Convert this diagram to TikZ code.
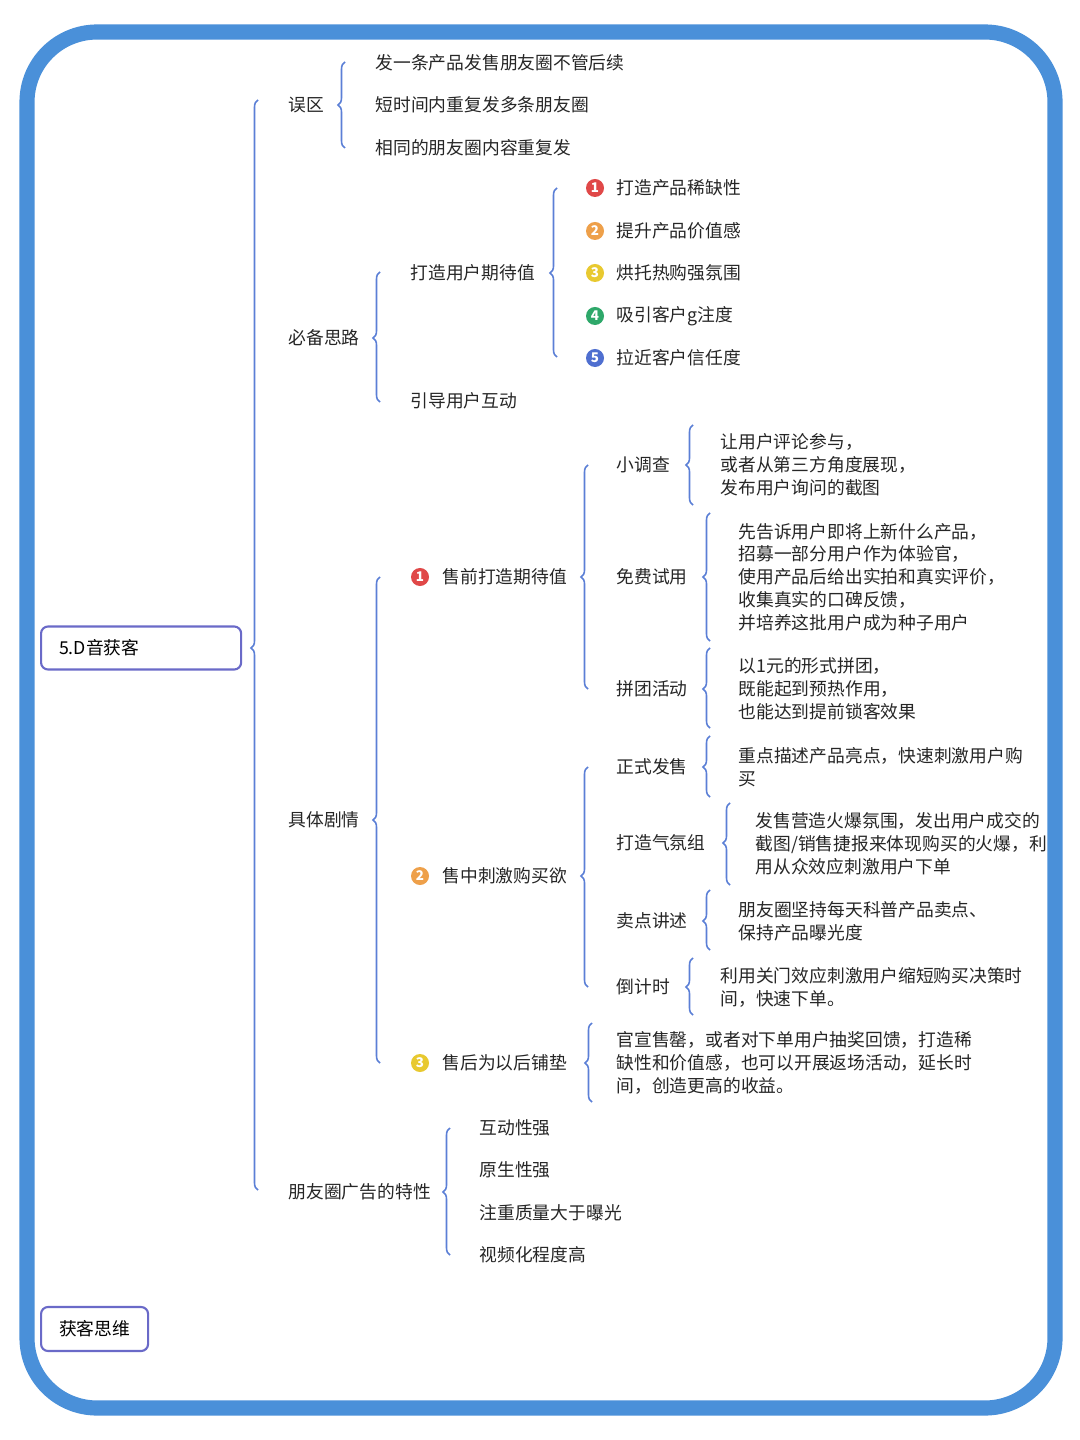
\documentclass[tikz,border=0pt]{standalone}
\usepackage{fontspec}
\setmainfont{Noto Sans CJK SC}
\usetikzlibrary{decorations.pathreplacing}
\definecolor{frameblue}{HTML}{4A90D9}
\definecolor{bracecol}{HTML}{5B7FD6}
\definecolor{boxcol}{HTML}{6A6AC8}
\definecolor{numred}{HTML}{E04848}
\definecolor{numorange}{HTML}{EEA04A}
\definecolor{numyellow}{HTML}{E8C930}
\definecolor{numgreen}{HTML}{2EA86A}
\definecolor{numblue}{HTML}{4F6FD0}
\newcommand{\brc}[4]{\pgfmathsetmacro{\brasp}{(#3-#4)/(#3-#2)}\draw[brace, decoration={aspect=\brasp}] (#1,#3) -- (#1,#2);}
\begin{document}
\begin{tikzpicture}[x=0.01cm, y=-0.01cm,
    txt/.style={anchor=west, font=\fontsize{5.05pt}{6.5pt}\selectfont, align=left, inner sep=0pt, text=black!85},
    rootbox/.style={draw=boxcol, line width=0.6pt, rounded corners=2pt, anchor=west, font=\fontsize{5.05pt}{6.5pt}\selectfont, inner xsep=0.18cm, inner ysep=0pt, align=left},
    numdot/.style={circle, inner sep=0pt, minimum size=0.18cm, text=white, font=\fontsize{3.8pt}{4pt}\selectfont\bfseries},
    brace/.style={draw=bracecol, line width=0.45pt, decorate, decoration={brace, amplitude=0.07cm}}]
  \useasboundingbox (0,0) rectangle (1080,1440);
  \fill[white] (0,0) rectangle (1080,1440);
  \draw[frameblue, line width=4.3pt, rounded corners=0.7cm] (27,32) rectangle (1055,1408);
  % root
  \node (root) [rootbox, text width=1.64cm, minimum height=0.43cm] at (40,648) {5.D音获客};
  \node (think) [rootbox, minimum height=0.44cm] at (40,1329) {获客思维};
  \brc{258}{100}{1190}{648}
  % 误区
  \node (wuqu) [txt] at (288,105) {误区};
  \brc{345}{62}{148}{105}
  \node (w1) [txt] at (375,63) {发一条产品发售朋友圈不管后续};
  \node (w2) [txt] at (375,105) {短时间内重复发多条朋友圈};
  \node (w3) [txt] at (375,148) {相同的朋友圈内容重复发};
  % 必备思路
  \node (bibei) [txt] at (288,338) {必备思路};
  \brc{380}{272}{402}{338}
  \node (qidai) [txt] at (410,273) {打造用户期待值};
  \node (hudong) [txt] at (410,401) {引导用户互动};
  \brc{557}{188}{357}{273}
  \foreach \y/\n/\c/\t in {188/1/numred/打造产品稀缺性, 231/2/numorange/提升产品价值感,
      273/3/numyellow/烘托热购强氛围, 316/4/numgreen/吸引客户g注度, 358/5/numblue/拉近客户信任度} {
    \node (q\n) [numdot, fill=\c] at (595,\y) {\n};
    \node (qt\n) [txt] at (616,\y) {\t};
  }
  % 具体剧情
  \node (juti) [txt] at (288,820) {具体剧情};
  \brc{380}{577}{1063}{820}
  \node (s1) [numdot, fill=numred] at (420,577) {1};
  \node (pre) [txt] at (442,577) {售前打造期待值};
  \node (s2) [numdot, fill=numorange] at (420,876) {2};
  \node (mid) [txt] at (442,876) {售中刺激购买欲};
  \node (s3) [numdot, fill=numyellow] at (420,1063) {3};
  \node (post) [txt] at (442,1063) {售后为以后铺垫};
  % 售前
  \brc{588}{465}{689}{577}
  \node (diaocha) [txt] at (616,465) {小调查};
  \node (shiyong) [txt] at (616,577) {免费试用};
  \node (pintuan) [txt] at (616,689) {拼团活动};
  \brc{693}{425}{505}{465}
  \node (dct) [txt] at (720,465) {让用户评论参与，\\或者从第三方角度展现，\\发布用户询问的截图};
  \brc{710}{513}{641}{577}
  \node (syt) [txt] at (738,577) {先告诉用户即将上新什么产品，\\招募一部分用户作为体验官，\\使用产品后给出实拍和真实评价，\\收集真实的口碑反馈，\\并培养这批用户成为种子用户};
  \brc{710}{648}{728}{689}
  \node (ptt) [txt] at (738,689) {以1元的形式拼团，\\既能起到预热作用，\\也能达到提前锁客效果};
  % 售中
  \brc{588}{767}{987}{876}
  \node (fashou) [txt] at (616,767) {正式发售};
  \node (qifen) [txt] at (616,843) {打造气氛组};
  \node (maidian) [txt] at (616,921) {卖点讲述};
  \node (daoji) [txt] at (616,987) {倒计时};
  \brc{710}{736}{797}{767}
  \node (fst) [txt] at (738,767) {重点描述产品亮点，快速刺激用户购\\买};
  \brc{730}{803}{885}{843}
  \node (qft) [txt] at (755,844) {发售营造火爆氛围，发出用户成交的\\截图/销售捷报来体现购买的火爆，利\\用从众效应刺激用户下单};
  \brc{710}{890}{950}{921}
  \node (mdt) [txt] at (738,921) {朋友圈坚持每天科普产品卖点、\\保持产品曝光度};
  \brc{693}{958}{1015}{987}
  \node (djt) [txt] at (720,987) {利用关门效应刺激用户缩短购买决策时\\间，快速下单。};
  % 售后
  \brc{592}{1023}{1102}{1063}
  \node (sht) [txt] at (616,1063) {官宣售罄，或者对下单用户抽奖回馈，打造稀\\缺性和价值感，也可以开展返场活动，延长时\\间，创造更高的收益。};
  % 特性
  \node (texing) [txt] at (288,1192) {朋友圈广告的特性};
  \brc{450}{1128}{1255}{1192}
  \node (t1) [txt] at (479,1128) {互动性强};
  \node (t2) [txt] at (479,1170) {原生性强};
  \node (t3) [txt] at (479,1213) {注重质量大于曝光};
  \node (t4) [txt] at (479,1255) {视频化程度高};
\end{tikzpicture}
\end{document}
